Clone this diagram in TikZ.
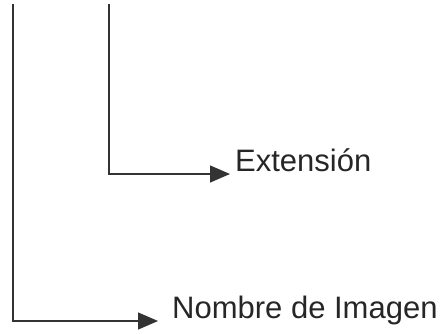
\documentclass[tikz,border=0pt]{standalone}
\usepackage{fontspec}
\setmainfont{Liberation Sans}
\usetikzlibrary{arrows.meta}
\begin{document}
\begin{tikzpicture}[x=1pt,y=1pt,
  conn/.style={draw=black!80, line width=1.2pt, -{Triangle[length=20pt,width=17pt]}},
  lbl/.style={anchor=base west, inner sep=0pt, font=\fontsize{31pt}{36pt}\selectfont, text=black!85}]
\useasboundingbox (0,0) rectangle (447,333);
\coordinate (s1) at (13,329);
\coordinate (s2) at (109,329);
\coordinate (t1) at (158,12);
\coordinate (t2) at (230,159);
\node[lbl] (nombre) at (172,15) {Nombre de Imagen};
\node[lbl] (ext) at (235,162) {Extensión};
\draw[conn] (s1) |- (t1);
\draw[conn] (s2) |- (t2);
\end{tikzpicture}
\end{document}
